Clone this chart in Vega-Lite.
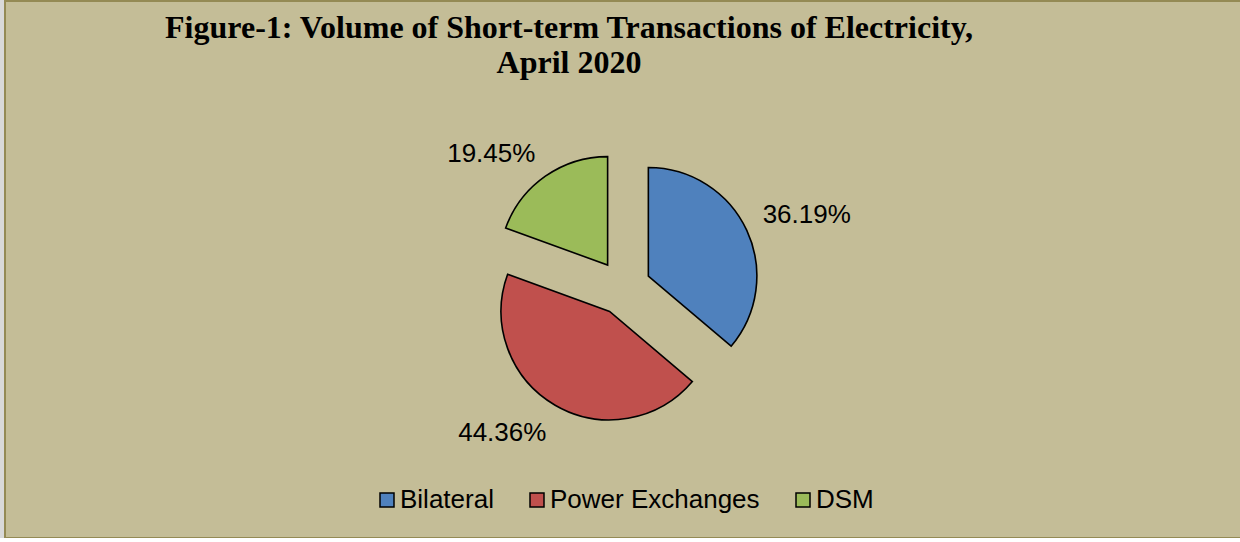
{
  "$schema": "https://vega.github.io/schema/vega-lite/v6.json",
  "width": 1240,
  "height": 537,
  "autosize": {"type": "none"},
  "padding": {"left": 5, "top": 1, "right": 0, "bottom": 0},
  "background": "#D9D9D9",
  "config": {
    "view": {"fill": "#C4BD97", "stroke": "#948A54", "strokeWidth": 2},
    "font": "Liberation Sans"
  },
  "title": {
    "text": ["Figure-1: Volume of Short-term Transactions of Electricity,", "April 2020"],
    "anchor": "middle",
    "dx": -56,
    "offset": -104,
    "font": "Liberation Serif",
    "fontSize": 32,
    "fontWeight": "bold",
    "color": "#000000",
    "lineHeight": 35,
    "baseline": "alphabetic"
  },
  "data": {
    "values": [
      {"source": "Bilateral", "share": 36.19},
      {"source": "Power Exchanges", "share": 44.36},
      {"source": "DSM", "share": 19.45}
    ]
  },
  "transform": [
    {"window": [{"op": "sum", "field": "share", "as": "end"}], "frame": [null, 0]},
    {"calculate": "datum.end - datum.share", "as": "start"},
    {"calculate": "PI * (datum.start + datum.end) / 100", "as": "mid"},
    {"calculate": "sin(datum.mid)", "as": "ex"},
    {"calculate": "-cos(datum.mid)", "as": "ey"},
    {"calculate": "5.58 * datum.ex", "as": "lx"},
    {"calculate": "5.58 * datum.ey", "as": "ly"},
    {"calculate": "format(datum.share, '.2f') + '%'", "as": "label"}
  ],
  "layer": [
    {
      "mark": {"type": "arc", "outerRadius": 108.5, "stroke": "#000000", "strokeWidth": 1.6},
      "encoding": {
        "theta": {"field": "start", "type": "quantitative", "stack": null, "scale": {"domain": [0, 100], "range": [0, 6.283185307]}},
        "theta2": {"field": "end"},
        "x": {"field": "ex", "type": "quantitative", "axis": null, "scale": {"domain": [-1, 1], "range": [590.9, 645.9]}},
        "y": {"field": "ey", "type": "quantitative", "axis": null, "scale": {"domain": [-1, 1], "range": [259.1, 314.1]}},
        "color": {
          "field": "source",
          "type": "nominal",
          "sort": null,
          "scale": {"domain": ["Bilateral", "Power Exchanges", "DSM"], "range": ["#4F81BD", "#C0504D", "#9BBB59"]},
          "legend": {
            "title": null,
            "orient": "none",
            "direction": "horizontal",
            "legendX": 369,
            "legendY": 486,
            "symbolType": "square",
            "symbolSize": 196,
            "symbolStrokeColor": "#000000",
            "symbolStrokeWidth": 1.5,
            "symbolOpacity": 1,
            "labelFont": "Liberation Sans",
            "labelFontSize": 26,
            "labelColor": "#000000",
            "labelOffset": 0,
            "columnPadding": 30,
            "labelLimit": 400
          }
        }
      }
    },
    {
      "mark": {
        "type": "text",
        "font": "Liberation Sans",
        "fontSize": 26,
        "color": "#000000",
        "align": {"expr": "datum.ex > 0 ? 'left' : 'right'"},
        "baseline": {"expr": "datum.ey < 0 ? 'alphabetic' : 'top'"}
      },
      "encoding": {
        "x": {"field": "lx", "type": "quantitative"},
        "y": {"field": "ly", "type": "quantitative"},
        "text": {"field": "label"}
      }
    }
  ]
}
